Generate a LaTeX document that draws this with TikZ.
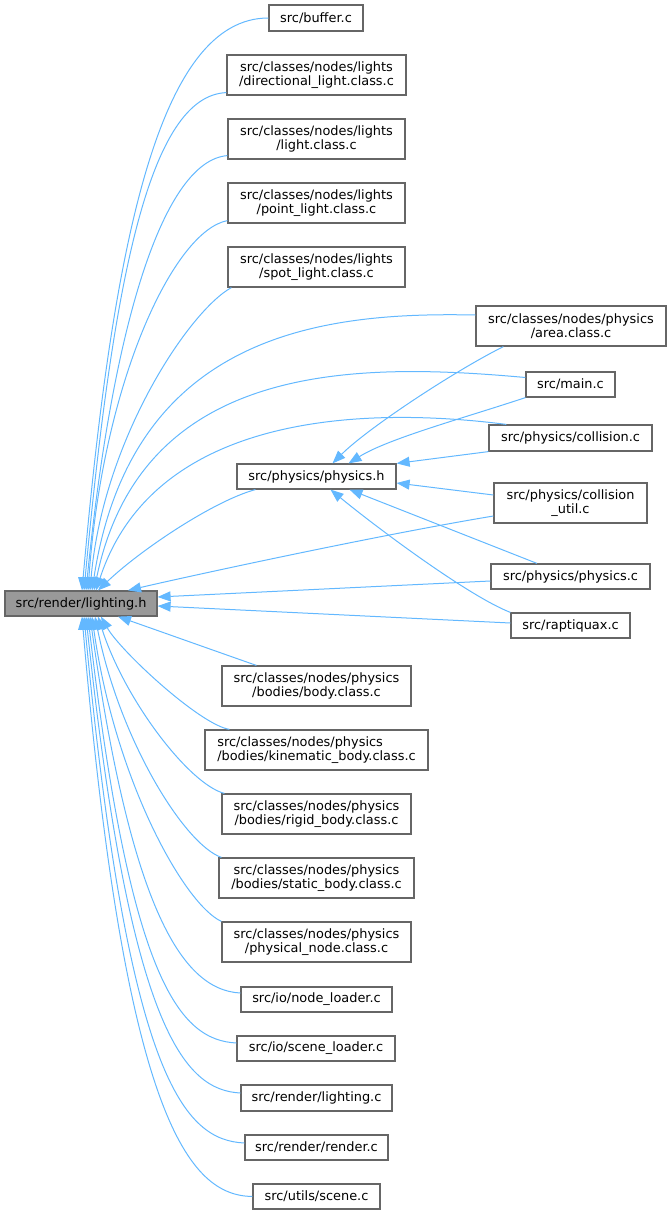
\documentclass[tikz,border=0pt]{standalone}
\usepackage{fontspec}
\setmainfont{DejaVu Sans}
\usepackage{xcolor}
\usepackage{tikz}
\usetikzlibrary{arrows.meta}
\definecolor{edgeblue}{HTML}{63B8FF}
\definecolor{boxgray}{HTML}{666666}
\definecolor{hdrgray}{HTML}{999999}
\tikzset{
  box/.style={rectangle, draw=boxgray, line width=1.2pt, fill=white, inner sep=0pt, align=center, font=\fontsize{12.9}{14.3}\selectfont},
  hbox/.style={box, fill=hdrgray},
  arrow/.style={-{Triangle[length=13pt,width=10pt]}, draw=edgeblue, line width=1pt},
}

\begin{document}
\begin{tikzpicture}[x=1pt, y=-1pt]
    \useasboundingbox (0,0) rectangle (671,1215);
    % the header and the files that include it
    \node[hbox, minimum width=152pt, minimum height=25pt] (lighth) at (81,603.5) {src/render/lighting.h};
    \node[box, minimum width=94pt, minimum height=26pt] (buffer) at (316,18) {src/buffer.c};
    \node[box, minimum width=179pt, minimum height=40pt] (dirlight) at (316.5,75) {src/classes/nodes/lights\\/directional\_light.class.c};
    \node[box, minimum width=177pt, minimum height=40pt] (lightcls) at (316.5,139) {src/classes/nodes/lights\\/light.class.c};
    \node[box, minimum width=177pt, minimum height=40pt] (pointlight) at (316.5,203) {src/classes/nodes/lights\\/point\_light.class.c};
    \node[box, minimum width=177pt, minimum height=40pt] (spotlight) at (316.5,267) {src/classes/nodes/lights\\/spot\_light.class.c};
    \node[box, minimum width=190pt, minimum height=40pt] (area) at (571,326) {src/classes/nodes/physics\\/area.class.c};
    \node[box, minimum width=89pt, minimum height=25pt] (mainc) at (570.5,384.5) {src/main.c};
    \node[box, minimum width=163pt, minimum height=26pt] (collision) at (570.5,438) {src/physics/collision.c};
    \node[box, minimum width=159pt, minimum height=25pt] (physh) at (316.5,476.5) {src/physics/physics.h};
    \node[box, minimum width=153pt, minimum height=40pt] (collutil) at (570.5,503) {src/physics/collision\\\_util.c};
    \node[box, minimum width=159pt, minimum height=25pt] (physc) at (570.5,576.5) {src/physics/physics.c};
    \node[box, minimum width=119pt, minimum height=25pt] (raptiquax) at (570.5,625.5) {src/raptiquax.c};
    \node[box, minimum width=189pt, minimum height=40pt] (body) at (316.5,686) {src/classes/nodes/physics\\/bodies/body.class.c};
    \node[box, minimum width=223pt, minimum height=40pt, align=left] (kinematic) at (316.5,750) {src/classes/nodes/physics\\/bodies/kinematic\_body.class.c};
    \node[box, minimum width=189pt, minimum height=40pt] (rigid) at (316.5,814) {src/classes/nodes/physics\\/bodies/rigid\_body.class.c};
    \node[box, minimum width=195pt, minimum height=40pt] (staticbody) at (316.5,878) {src/classes/nodes/physics\\/bodies/static\_body.class.c};
    \node[box, minimum width=189pt, minimum height=40pt] (physnode) at (316.5,942) {src/classes/nodes/physics\\/physical\_node.class.c};
    \node[box, minimum width=151pt, minimum height=25pt] (nodeloader) at (316.5,999.5) {src/io/node\_loader.c};
    \node[box, minimum width=158pt, minimum height=25pt] (sceneloader) at (316,1048.5) {src/io/scene\_loader.c};
    \node[box, minimum width=151pt, minimum height=26pt] (lightingc) at (316.5,1098) {src/render/lighting.c};
    \node[box, minimum width=143pt, minimum height=25pt] (renderc) at (316.5,1147.5) {src/render/render.c};
    \node[box, minimum width=127pt, minimum height=25pt] (scenec) at (316.5,1196.5) {src/utils/scene.c};
    % upper includers
    \draw[arrow] (buffer.west) .. controls +(-109,0) and +(31,-351) .. ([xshift=1pt]lighth.north);
    \draw[arrow] ([yshift=3pt]dirlight.south west) .. controls +(-77,3) and +(29,-311) .. ([xshift=3pt]lighth.north);
    \draw[arrow] ([yshift=4pt]lightcls.south west) .. controls +(-63,5) and +(27,-271) .. ([xshift=5pt]lighth.north);
    \draw[arrow] ([yshift=3pt]pointlight.south west) .. controls +(-53,10) and +(15,-211) .. ([xshift=7pt]lighth.north);
    \draw[arrow] ([xshift=4pt]spotlight.south west) .. controls +(-42,23) and +(13,-151) .. ([xshift=9pt]lighth.north);
    \draw[arrow] ([yshift=11pt]area.west) .. controls +(-146,-3) and +(40,-261) .. ([xshift=11pt]lighth.north);
    \draw[arrow] ([yshift=7pt]mainc.west) .. controls +(-166,-15) and +(48,-231) .. ([xshift=13pt]lighth.north);
    \draw[arrow] ([xshift=18pt]collision.north west) .. controls +(-157,-20) and +(56,-171) .. ([xshift=15pt]lighth.north);
    \draw[arrow] ([xshift=19pt]physh.south west) .. controls +(-41,11) and +(43,-41) .. ([xshift=17pt]lighth.north);
    \draw[arrow] ([yshift=-13pt]collutil.west) .. controls +(-120,20) and +(60,-14) .. ([xshift=47pt]lighth.north);
    \draw[arrow] ([yshift=-4.5pt]physc.west) -- ([yshift=6.5pt]lighth.east);
    \draw[arrow] ([yshift=2.5pt]raptiquax.west) -- ([yshift=-2.5pt]lighth.east);
    % files that include physics.h
    \draw[arrow] ([xshift=28pt]area.south west) .. controls +(-50,25) and +(35,-35) .. ([xshift=16pt]physh.north);
    \draw[arrow] (mainc.south west) .. controls +(-60,20) and +(40,-25) .. ([xshift=32pt]physh.north);
    \draw[arrow] (collision.south west) -- (physh.north east);
    \draw[arrow] ([yshift=8pt]collutil.west) -- ([yshift=-6.5pt]physh.east);
    \draw[arrow] ([xshift=-33.5pt]physc.north) -- ([xshift=33pt]physh.south);
    \draw[arrow] (raptiquax.north west) .. controls +(-41,-16) and +(50,41) .. ([xshift=14pt]physh.south);
    % lower includers
    \draw[arrow] ([xshift=35pt]body.north west) .. controls +(-40,-14) and +(40,14) .. ([xshift=37pt]lighth.south);
    \draw[arrow] ([xshift=25pt]kinematic.north west) .. controls +(-30,-5) and +(19,34) .. ([xshift=20pt]lighth.south);
    \draw[arrow] ([xshift=3pt]rigid.north west) .. controls +(-35,-9) and +(27,84) .. ([xshift=17pt]lighth.south);
    \draw[arrow] ([xshift=3pt]staticbody.north west) .. controls +(-37,-13) and +(25,124) .. ([xshift=14pt]lighth.south);
    \draw[arrow] (physnode.north west) .. controls +(-37,-17) and +(23,164) .. ([xshift=11pt]lighth.south);
    \draw[arrow] ([yshift=6.5pt]nodeloader.west) .. controls +(-61,-3) and +(40,284) .. ([xshift=9pt]lighth.south);
    \draw[arrow] ([yshift=5.5pt]sceneloader.west) .. controls +(-57,-3) and +(42,364) .. ([xshift=7pt]lighth.south);
    \draw[arrow] ([yshift=5pt]lightingc.west) .. controls +(-56,-3) and +(44,414) .. ([xshift=5pt]lighth.south);
    \draw[arrow] ([yshift=4.5pt]renderc.west) .. controls +(-60,-3) and +(44,464) .. ([xshift=3pt]lighth.south);
    \draw[arrow] (scenec.west) .. controls +(-63,-1) and +(43,504) .. ([xshift=1pt]lighth.south);
\end{tikzpicture}
\end{document}
